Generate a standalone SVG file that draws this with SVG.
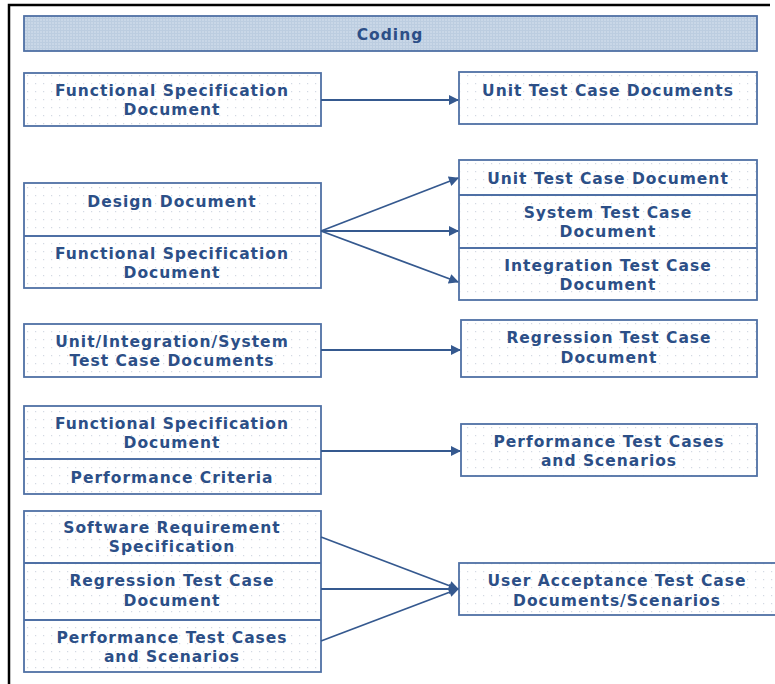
<svg xmlns="http://www.w3.org/2000/svg" width="775" height="684" viewBox="0 0 775 684">
  <defs>
    <pattern id="dots" width="8" height="8" patternUnits="userSpaceOnUse">
      <rect width="8" height="8" fill="#ffffff"/>
      <rect x="3" y="3" width="1.2" height="1.2" fill="#d3d9e3"/>
    </pattern>
    <pattern id="grid" width="3" height="3" patternUnits="userSpaceOnUse">
      <rect width="3" height="3" fill="#c9d7e7"/>
      <rect width="3" height="1" fill="#bccde0"/>
      <rect width="1" height="3" fill="#bccde0"/>
    </pattern>
    <marker id="arrow" viewBox="0 0 10 10" refX="9" refY="5" markerWidth="11" markerHeight="10" markerUnits="userSpaceOnUse" orient="auto">
      <path d="M0,0 L10,5 L0,10 z" fill="#35598f"/>
    </marker>
  </defs>
  <style>
    .box { fill: url(#dots); stroke: #4f70a5; stroke-width: 1.8; }
    .div { stroke: #4f70a5; stroke-width: 1.8; }
    .hdr { fill: url(#grid); stroke: #4f70a5; stroke-width: 1.8; }
    text { font-family: "DejaVu Sans", Verdana, sans-serif; font-weight: bold; font-size: 15.5px; letter-spacing: 1px; fill: #2c4f87; text-anchor: middle; }
    .edge { stroke: #35598f; stroke-width: 1.8; fill: none; marker-end: url(#arrow); }
  </style>

  <!-- outer frame -->
  <path d="M9,684 V5 H770" fill="none" stroke="#000" stroke-width="2.5"/>

  <g id="header">
    <rect class="hdr" x="24" y="16" width="733" height="35"/>
    <text x="390" y="40">Coding</text>
  </g>

  <g id="fs1">
    <rect class="box" x="24" y="73" width="297" height="53"/>
    <text x="172" y="96">Functional Specification</text>
    <text x="172" y="115">Document</text>
  </g>
  <g id="unit-docs">
    <rect class="box" x="459" y="72" width="298" height="52"/>
    <text x="608" y="96">Unit Test Case Documents</text>
  </g>

  <g id="design-fs">
    <rect class="box" x="24" y="183" width="297" height="105"/>
    <line class="div" x1="24" y1="236" x2="321" y2="236"/>
    <text x="172" y="207">Design Document</text>
    <text x="172" y="259">Functional Specification</text>
    <text x="172" y="278">Document</text>
  </g>
  <g id="test-stack">
    <rect class="box" x="459" y="160" width="298" height="140"/>
    <line class="div" x1="459" y1="195" x2="757" y2="195"/>
    <line class="div" x1="459" y1="248" x2="757" y2="248"/>
    <text x="608" y="184">Unit Test Case Document</text>
    <text x="608" y="218">System Test Case</text>
    <text x="608" y="237">Document</text>
    <text x="608" y="271">Integration Test Case</text>
    <text x="608" y="290">Document</text>
  </g>

  <g id="uis-docs">
    <rect class="box" x="24" y="324" width="297" height="53"/>
    <text x="172" y="347">Unit/Integration/System</text>
    <text x="172" y="366">Test Case Documents</text>
  </g>
  <g id="regression">
    <rect class="box" x="461" y="320" width="296" height="57"/>
    <text x="609" y="343">Regression Test Case</text>
    <text x="609" y="363">Document</text>
  </g>

  <g id="fs-perf">
    <rect class="box" x="24" y="406" width="297" height="88"/>
    <line class="div" x1="24" y1="459" x2="321" y2="459"/>
    <text x="172" y="429">Functional Specification</text>
    <text x="172" y="448">Document</text>
    <text x="172" y="483">Performance Criteria</text>
  </g>
  <g id="perf-cases">
    <rect class="box" x="461" y="424" width="296" height="52"/>
    <text x="609" y="447">Performance Test Cases</text>
    <text x="609" y="466">and Scenarios</text>
  </g>

  <g id="uat-inputs">
    <rect class="box" x="24" y="511" width="297" height="161"/>
    <line class="div" x1="24" y1="563" x2="321" y2="563"/>
    <line class="div" x1="24" y1="620" x2="321" y2="620"/>
    <text x="172" y="533">Software Requirement</text>
    <text x="172" y="552">Specification</text>
    <text x="172" y="586">Regression Test Case</text>
    <text x="172" y="606">Document</text>
    <text x="172" y="643">Performance Test Cases</text>
    <text x="172" y="662">and Scenarios</text>
  </g>
  <g id="uat">
    <rect class="box" x="459" y="563" width="318" height="52"/>
    <text x="617" y="586">User Acceptance Test Case</text>
    <text x="617" y="606">Documents/Scenarios</text>
  </g>

  <g id="connectors">
    <line class="edge" x1="321" y1="100" x2="458" y2="100"/>
    <line class="edge" x1="321" y1="231" x2="458" y2="178"/>
    <line class="edge" x1="321" y1="231" x2="458" y2="231"/>
    <line class="edge" x1="321" y1="231" x2="458" y2="282"/>
    <line class="edge" x1="321" y1="350" x2="460" y2="350"/>
    <line class="edge" x1="321" y1="451" x2="460" y2="451"/>
    <line class="edge" x1="321" y1="537" x2="458" y2="589"/>
    <line class="edge" x1="321" y1="589" x2="458" y2="589"/>
    <line class="edge" x1="321" y1="641" x2="458" y2="589"/>
  </g>
</svg>
